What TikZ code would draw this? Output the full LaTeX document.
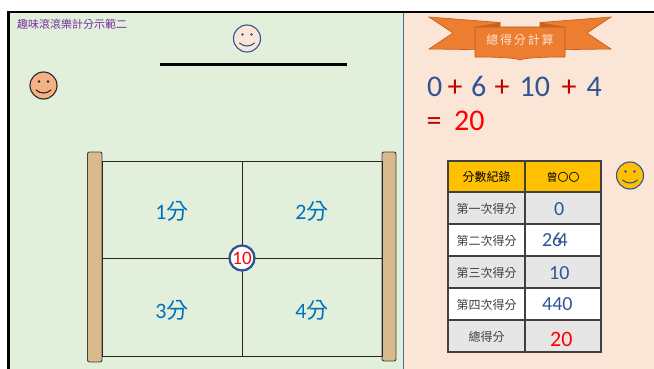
\documentclass[tikz,border=0pt]{standalone}
\usepackage{fontspec}
\setmainfont{Carlito}
\newfontfamily\cjk{Noto Sans CJK TC}
\definecolor{fieldgreen}{HTML}{E2EFDA}
\definecolor{paperpeach}{HTML}{FBE5D6}
\definecolor{numblue}{HTML}{2F5597}
\definecolor{lblblue}{HTML}{0070C0}
\definecolor{plusred}{HTML}{C00000}
\definecolor{brightred}{HTML}{FF0000}
\definecolor{gold}{HTML}{FFC000}
\definecolor{rowgray}{HTML}{E7E6E6}
\definecolor{rulegray}{HTML}{404040}
\definecolor{ribbon}{HTML}{ED7D31}
\definecolor{ribbonedge}{HTML}{C55A11}
\definecolor{ribbonfold}{HTML}{C8601E}
\definecolor{woodtan}{HTML}{D9BA8C}
\definecolor{titlepurple}{HTML}{7030A0}
\definecolor{faceorange}{HTML}{F4B183}
\definecolor{dividerblue}{HTML}{4A6A9E}
% smiley face: centre, fill, outline
\newcommand\drawsmiley[3]{%
  \begin{scope}[shift={#1}]
    \draw[fill=#2, draw=#3, line width=1.1pt] (0,0) circle (13.5);
    \fill[#3] (-4.5,-4) circle (1.3) (4.5,-4) circle (1.3);
    \draw[#3, line width=1.1pt, line cap=round] (-7.5,4.5) .. controls (-3,8.5) and (3,8.5) .. (7.5,4.5);
  \end{scope}}
\begin{document}
\begin{tikzpicture}[x=1pt,y=-1pt,
  courtlabel/.style={text=lblblue, inner sep=0, font=\fontsize{22}{22}\selectfont},
  eqnum/.style={text=numblue, anchor=base west, inner sep=0, font=\fontsize{30}{30}\selectfont},
  eqop/.style={text=plusred, anchor=base west, inner sep=0, font=\fontsize{30}{30}\selectfont},
  rowlabel/.style={text=rulegray, inner sep=0, font=\cjk\fontsize{12}{12}\selectfont},
  score/.style={text=numblue, anchor=base west, inner sep=0, font=\fontsize{20}{20}\selectfont},
  post/.style={fill=woodtan, draw=rulegray, line width=0.9pt, rounded corners=2pt},
  courtline/.style={draw=black!85, line width=1pt}]
\useasboundingbox (0,0) rectangle (654,369);
\fill[white] (0,0) rectangle (654,369);
% two panels
\fill[fieldgreen] (8,12) rectangle (403.5,369);
\fill[paperpeach] (403.5,12) rectangle (654,369);
\draw[line width=2pt] (6.5,11.8) -- (654,11.8);
\draw[line width=3pt] (8.3,11) -- (8.3,369);
\draw[dividerblue, line width=1.4pt] (403.5,12.8) -- (403.5,369);
% title
\node[anchor=west, inner sep=0, text=titlepurple, font=\cjk\fontsize{11}{11}\selectfont] (title) at (17,24.5) {趣味滾滾樂計分示範二};
% faces and the throwing line
\drawsmiley{(247,38.5)}{paperpeach}{numblue}
\drawsmiley{(43.5,85.5)}{faceorange}{black!85}
\drawsmiley{(630,175.5)}{gold}{numblue}
\draw[line width=3pt] (159.5,65) -- (346.5,65);
% court
\draw[post] (87.5,152) rectangle (102,362);
\draw[post] (382,152) rectangle (396,361);
\coordinate (tl) at (102,161);
\coordinate (br) at (382,356);
\draw[courtline] (tl) rectangle (br);
\draw[courtline] (242,161) -- (242,356);
\draw[courtline] (102,258) -- (382,258);
\node[courtlabel] (s1) at (172,211) {1{\cjk 分}};
\node[courtlabel] (s2) at (312,211) {2{\cjk 分}};
\node[courtlabel] (s3) at (172,310) {3{\cjk 分}};
\node[courtlabel] (s4) at (312,310) {4{\cjk 分}};
\node[circle, draw=numblue, line width=2.3pt, fill=white, minimum size=25pt, inner sep=0,
      text=brightred, font=\fontsize{19}{19}\selectfont] (ball) at (242,258) {10};
% ribbon banner
\filldraw[fill=ribbon, draw=ribbonedge, line width=0.6pt]
  (429,17) -- (500,22.5) -- (500,50) -- (429,49) -- (453,33) -- cycle;
\filldraw[fill=ribbon, draw=ribbonedge, line width=0.6pt]
  (611,17) -- (540,22.5) -- (540,50) -- (611,49) -- (587,33) -- cycle;
\fill[ribbonfold] (475,27) -- (500,22.5) -- (500,27) -- cycle;
\fill[ribbonfold] (565,27) -- (540,22.5) -- (540,27) -- cycle;
\filldraw[fill=ribbon, draw=ribbonedge, line width=0.6pt]
  (475,27) -- (565,27) -- (565,57) .. controls (540,57) and (525,58) .. (520,60)
  .. controls (515,58) and (500,57) .. (475,57) -- cycle;
\node[text=paperpeach, inner sep=0, font=\cjk\fontsize{12}{12}\selectfont\addfontfeatures{LetterSpace=15}] (banner) at (520,39.5) {總得分計算};
% running total
\node[eqnum] (e0) at (427,96.5) {0};
\node[eqop]  (p1) at (447.5,96.5) {+};
\node[eqnum] (e6) at (471,96.5) {6};
\node[eqop]  (p2) at (494.5,96.5) {+};
\node[eqnum] (e10) at (519.5,96.5) {10};
\node[eqop]  (p3) at (561.5,96.5) {+};
\node[eqnum] (e4) at (586.5,96.5) {4};
\node[eqop]  (eq) at (426.5,131) {=};
\node[eqnum, text=brightred] (tot) at (454,131) {20};
% score table
\fill[gold] (448,161) rectangle (601,192);
\fill[rowgray] (448,192) rectangle (601,224);
\fill[white] (448,224) rectangle (601,256);
\fill[rowgray] (448,256) rectangle (601,288);
\fill[white] (448,288) rectangle (601,320);
\fill[rowgray] (448,320) rectangle (601,352);
\draw[rulegray, line width=1.2pt] (448,161) rectangle (601,352);
\draw[rulegray, line width=1.2pt] (525,161) -- (525,352);
\foreach \yy in {192,224,256,288,320}
  \draw[rulegray, line width=1.2pt] (448,\yy) -- (601,\yy);
\node[rowlabel, text=black] (h1) at (486.5,177) {分數紀錄};
\node[rowlabel, text=black, font=\cjk\fontsize{11}{11}\selectfont] (h2) at (563,177) {曾〇〇};
\node[rowlabel] (r1) at (486.5,208.5) {第一次得分};
\node[rowlabel] (r2) at (486.5,240.5) {第二次得分};
\node[rowlabel] (r3) at (486.5,272.5) {第三次得分};
\node[rowlabel] (r4) at (486.5,304.5) {第四次得分};
\node[rowlabel] (r5) at (486.5,336.5) {總得分};
\node[score] (v1) at (554,215.5) {0};
\node[score] (v2a) at (542,246) {2};
\node[score] (v2b) at (552,246) {6};
\node[score] (v2c) at (557.5,246) {4};
\node[score] (v3) at (549,279.5) {10};
\node[score] (v4) at (542,310) {440};
\node[score, text=brightred, font=\fontsize{22}{22}\selectfont] (v5) at (550,346.5) {20};
\end{tikzpicture}
\end{document}
